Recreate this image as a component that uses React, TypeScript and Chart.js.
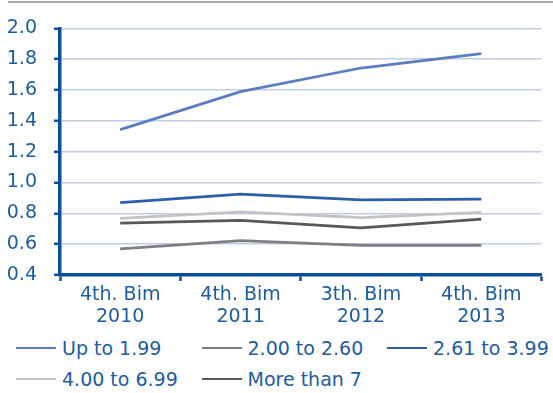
import React, { useEffect, useRef } from "react";
import { Chart, registerables } from "chart.js";

Chart.register(...registerables);

const categories: string[][] = [
  ["4th. Bim", "2010"],
  ["4th. Bim", "2011"],
  ["3th. Bim", "2012"],
  ["4th. Bim", "2013"],
];

const seriesNames = ["Up to 1.99", "2.00 to 2.60", "2.61 to 3.99", "4.00 to 6.99", "More than 7"];
const upTo199 = [1.343, 1.59, 1.743, 1.837];
const from200to260 = [0.57, 0.623, 0.593, 0.593];
const from261to399 = [0.87, 0.925, 0.887, 0.893];
const from400to699 = [0.768, 0.81, 0.772, 0.806];
const moreThan7 = [0.736, 0.755, 0.706, 0.762];
const seriesColors = ["#5b7ec2", "#7f7f7f", "#2d5ea9", "#c3c3c3", "#585858"];

const yMin = 0.4;
const yMax = 2.0;
const yStep = 0.2;

const TEXT = "#1c5c9f";
const AXIS = "#0b4f9c";
const GRID = "#c3cbe7";
const FONT = "'DejaVu Sans', sans-serif";

export default function App() {
  const canvasRef = useRef<HTMLCanvasElement | null>(null);

  useEffect(() => {
    document.body.style.margin = "0";
    const canvas = canvasRef.current;
    if (!canvas) return;
    const values = [upTo199, from200to260, from261to399, from400to699, moreThan7];
    const chart = new Chart(canvas, {
      type: "line",
      data: {
        labels: categories,
        datasets: values.map((v, i) => ({
          label: seriesNames[i],
          data: v,
          borderColor: seriesColors[i],
          backgroundColor: seriesColors[i],
          borderWidth: 2.75,
          pointRadius: 0,
          tension: 0,
          fill: false,
        })),
      },
      options: {
        animation: false,
        responsive: false,
        devicePixelRatio: 1,
        layout: { padding: { top: 25.5, right: 11.5, left: 0, bottom: 0 } },
        plugins: {
          legend: { display: false },
          tooltip: { enabled: false },
        },
        scales: {
          x: {
            offset: true,
            grid: {
              offset: true,
              drawOnChartArea: false,
              drawTicks: true,
              tickLength: 6,
              tickColor: AXIS,
              tickWidth: 2.5,
            },
            border: { color: AXIS, width: 3.5 },
            ticks: {
              color: TEXT,
              padding: 3,
              maxRotation: 0,
              autoSkip: false,
              font: { family: FONT, size: 19, lineHeight: 1.16 },
            },
            afterFit: (scale: any) => {
              scale.height = 55;
            },
          },
          y: {
            min: yMin,
            max: yMax,
            grid: {
              color: GRID,
              lineWidth: 1.6,
              tickLength: 6,
              tickColor: AXIS,
              tickWidth: 2.5,
            },
            border: { color: AXIS, width: 3.5 },
            ticks: {
              stepSize: yStep,
              color: TEXT,
              padding: 17,
              font: { family: FONT, size: 19 },
              callback: (v: any) => Number(v).toFixed(1),
            },
            afterFit: (scale: any) => {
              scale.width = 60;
            },
          },
        },
      },
    });
    return () => chart.destroy();
  }, []);

  const legendRows = [
    [0, 1, 2],
    [3, 4],
  ];

  return (
    <div style={{ position: "relative", width: 553, height: 393, background: "#fff", fontFamily: FONT }}>
      <div style={{ position: "absolute", left: 8, top: 1, width: 545, height: 2, background: "#a9a9a9" }} />
      <canvas ref={canvasRef} width={553} height={330} style={{ position: "absolute", left: 0, top: 0 }} />
      {legendRows.map((row, r) =>
        row.map((idx, c) => (
          <div
            key={idx}
            style={{
              position: "absolute",
              left: 16 + c * 185.5,
              top: 348 + r * 31 - 14,
              height: 28,
              display: "flex",
              alignItems: "center",
              color: TEXT,
              fontSize: 19,
              whiteSpace: "nowrap",
            }}
          >
            <span style={{ display: "inline-block", width: 40, height: 2.75, background: seriesColors[idx], marginRight: 6 }} />
            <span>{seriesNames[idx]}</span>
          </div>
        ))
      )}
    </div>
  );
}
